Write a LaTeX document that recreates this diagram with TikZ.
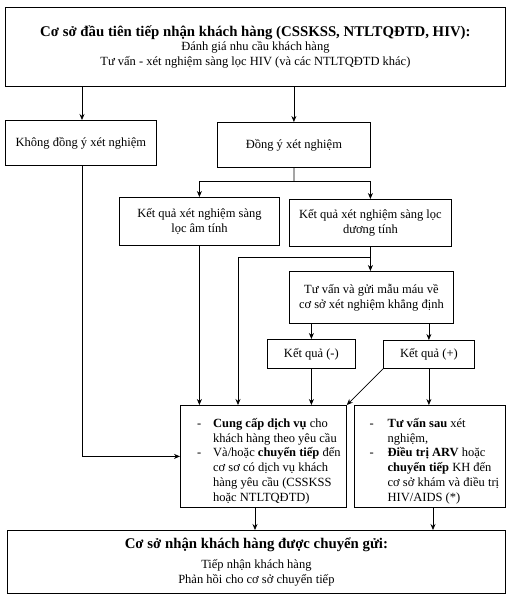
\documentclass[tikz,border=0pt]{standalone}
\usepackage{fontspec}
\setmainfont{Liberation Serif}
\usetikzlibrary{arrows.meta}
\begin{document}
\begin{tikzpicture}[x=1pt,y=-1pt,
  box/.style={draw=black, line width=0.8pt, anchor=north west, inner sep=0pt, align=center,
    font=\fontsize{12.5}{14.8}\selectfont},
  arr/.style={-{Stealth[length=6pt,width=5pt]}, line width=0.7pt},
  ln/.style={line width=0.7pt}]
\useasboundingbox (0,0) rectangle (511,597);
\node[box, minimum width=500pt, minimum height=79pt] (top) at (5,7)
  {{\fontsize{14.8}{16}\selectfont\bfseries Cơ sở đầu tiên tiếp nhận khách hàng (CSSKSS, NTLTQĐTD, HIV):}\\[0pt]
   Đánh giá nhu cầu khách hàng\\Tư vấn - xét nghiệm sàng lọc HIV (và các NTLTQĐTD khác)};
\node[box, minimum width=151pt, minimum height=45pt] (khong) at (5,120) {Không đồng ý xét nghiệm};
\node[box, minimum width=153pt, minimum height=45pt] (dongy) at (217,122) {Đồng ý xét nghiệm};
\node[box, minimum width=160pt, minimum height=48pt] (am) at (119,197) {Kết quả xét nghiệm sàng\\lọc âm tính};
\node[box, minimum width=162pt, minimum height=47pt] (duong) at (289,199) {Kết quả xét nghiệm sàng lọc\\dương tính};
\node[box, minimum width=164pt, minimum height=52pt] (tuvan) at (289,271) {Tư vấn và gửi mẫu máu về\\cơ sở xét nghiệm khẳng định};
\node[box, minimum width=88pt, minimum height=29pt] (kqm) at (267,339) {Kết quả (-)};
\node[box, minimum width=91pt, minimum height=28pt] (kqp) at (383,340) {Kết quả (+)};
\node[box, minimum width=166pt, minimum height=102pt, align=left] (cung) at (180,405)
  {\begin{tabular}{@{\hspace{11pt}}p{16pt}@{}l@{}}
   \noalign{\vspace{10pt}}
   - & \textbf{Cung cấp dịch vụ} cho\\
     & khách hàng theo yêu cầu\\
   - & Và/hoặc \textbf{chuyển tiếp} đến\\
     & cơ sơ có dịch vụ khách\\
     & hàng yêu cầu (CSSKSS\\
     & hoặc NTLTQĐTD)
   \end{tabular}};
\node[box, minimum width=151pt, minimum height=102pt, align=left] (dieutri) at (354,405)
  {\begin{tabular}{@{\hspace{9pt}}p{18pt}@{}l@{}}
   \noalign{\vspace{10pt}}
   - & \textbf{Tư vấn sau} xét\\
     & nghiệm,\\
   - & \textbf{Điều trị ARV} hoặc\\
     & \textbf{chuyển tiếp} KH đến\\
     & cơ sở khám và điều trị\\
     & HIV/AIDS (*)
   \end{tabular}};
\node[box, minimum width=498pt, minimum height=63pt] (nhan) at (7,530)
  {{\fontsize{14.8}{16}\selectfont\bfseries Cơ sở nhận khách hàng được chuyển gửi:}\\[6pt]
   Tiếp nhận khách hàng\\Phản hồi cho cơ sở chuyển tiếp};
% coordinates
\coordinate (kx) at (82,0);
\coordinate (j1) at (294,181);
\coordinate (j2) at (371,257);
\coordinate (c2) at (238,405);
\coordinate (bx1) at (255,0);
\coordinate (bx2) at (433,0);
% connectors
\draw[arr] (top.south -| kx) -- (khong.north -| kx);
\draw[arr] (top.south -| dongy.north) -- (dongy.north);
\draw[ln] (dongy.south) -- (j1);
\draw[arr] (j1) -| (am.north);
\draw[arr] (j1) -| (duong.north);
\draw[arr] (khong.south -| kx) |- (cung.west);
\draw[arr] (am.south) -- (am.south |- cung.north);
\draw[arr] (duong.south) -- (duong.south |- tuvan.north);
\draw[arr] (j2) -| (c2);
\draw[arr] (kqm.north |- tuvan.south) -- (kqm.north);
\draw[arr] (kqp.north |- tuvan.south) -- (kqp.north);
\draw[arr] (kqm.south) -- (kqm.south |- cung.north);
\draw[arr] (kqp.south west) -- (cung.north east);
\draw[arr] (kqp.south) -- (kqp.south |- dieutri.north);
\draw[arr] (cung.south -| bx1) -- (nhan.north -| bx1);
\draw[arr] (dieutri.south -| bx2) -- (nhan.north -| bx2);
\end{tikzpicture}
\end{document}
